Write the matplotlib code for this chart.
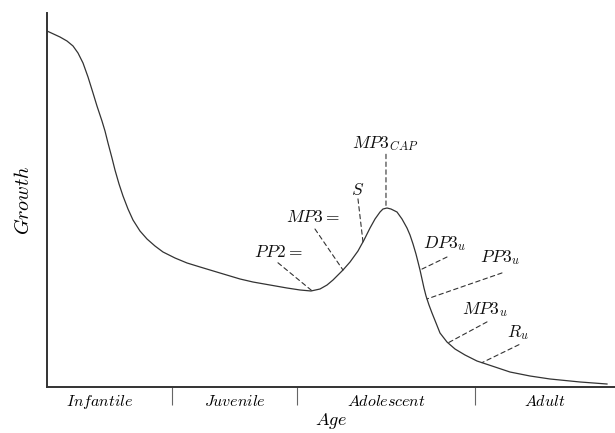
import numpy as np
import matplotlib
matplotlib.use("Agg")
import matplotlib.pyplot as plt

plt.rcParams['mathtext.fontset'] = 'cm'
plt.rcParams['font.family'] = ['DejaVu Serif']

# Growth curve (age 0-100, growth 0-100)
age = [0, 2.29, 3.52, 4.58, 5.46, 6.34, 7.22, 8.10, 8.80, 9.68,
       10.21, 10.74, 11.44, 11.97, 12.68, 13.38, 14.26, 15.14, 16.37, 17.61,
       19.01, 20.42, 22.54, 24.65, 26.94, 30.46, 33.98, 36.27, 39.26, 42.25,
       44.54, 46.48, 48.06, 49.30, 50.35, 52.11, 53.35, 54.75, 55.81, 56.87,
       57.75, 58.63, 59.15, 59.86, 60.56, 61.62, 62.50, 63.38, 63.91, 64.44,
       64.96, 65.32, 65.67, 66.02, 66.37, 66.73, 67.25, 67.78, 68.49, 69.19,
       70.42, 71.83, 73.59, 75.70, 78.87, 81.51, 85.04, 88.56, 93.84, 98.59]
growth = [95.19, 93.58, 92.51, 91.18, 89.30, 86.63, 82.89, 78.61, 75.13, 71.12,
          68.45, 65.24, 61.23, 58.02, 54.28, 51.07, 47.59, 44.65, 41.71, 39.57,
          37.70, 36.10, 34.49, 33.16, 32.09, 30.48, 28.88, 28.07, 27.27, 26.47,
          25.94, 25.67, 26.20, 27.27, 28.61, 31.28, 33.42, 36.36, 39.30, 42.51,
          44.92, 46.79, 47.59, 47.86, 47.59, 46.79, 44.92, 42.51, 40.64, 38.24,
          35.56, 33.42, 31.28, 28.88, 26.47, 24.33, 21.93, 19.79, 17.11, 14.44,
          12.03, 10.16, 8.56, 6.95, 5.35, 4.01, 2.94, 2.14, 1.34, 0.80]

# Age stages
stage_names = ['Infantile', 'Juvenile', 'Adolescent', 'Adult']
stage_bounds = [22.01, 44.01, 75.35]
stage_centers = [9.33, 33.1, 59.68, 87.68]

# Annotated events: label, age on the curve
event_labels = [r'$PP2 =$', r'$MP3 =$', r'$S$', r'$MP3_{CAP}$',
                r'$DP3_u$', r'$PP3_u$', r'$MP3_u$', r'$R_u$']
event_ages = [46.65, 52.11, 55.63, 59.68, 65.67, 66.90, 70.6, 76.58]

fig = plt.figure(figsize=(6.15, 4.33), dpi=100)
ax = fig.add_axes([47/615, 46/433, 1 - 47/615, (387-13)/433])

ax.plot(age, growth, color='#333333', lw=0.9, solid_joinstyle='round')
ax.set_xlim(0, 100)
ax.set_ylim(0, 100)

for s in ['top', 'right']:
    ax.spines[s].set_visible(False)
for s in ['left', 'bottom']:
    ax.spines[s].set_linewidth(1.4)
    ax.spines[s].set_color('#333333')

ax.set_yticks([])
ax.set_xticks(stage_bounds)
ax.set_xticklabels([])
ax.tick_params(axis='x', which='major', length=13, width=0.8, color='#666666', direction='out')
ax.set_xticks(stage_centers, minor=True)
ax.set_xticklabels([r'$' + n + '$' for n in stage_names], minor=True, fontsize=11.5)
ax.tick_params(axis='x', which='minor', length=0, pad=4)

ax.set_xlabel(r'$Age$', fontsize=13, labelpad=0)
ax.set_ylabel(r'$Growth$', fontsize=14.5, labelpad=10)

# offsets (pixels): dashed line end, label centre
line_off = [(-34, 28), (-28, 41), (-5, 43), (0, 54), (27, 13), (75, 26), (39, 21), (37, 18)]
text_off = [(-34, 38), (-30, 53), (-5, 51), (-1, 65), (25, 26), (73, 41), (37, 33), (36, 30)]

for lab, a, lo, to in zip(event_labels, event_ages, line_off, text_off):
    g = np.interp(a, age, growth)
    ax.annotate('', xy=(a, g), xytext=lo, textcoords='offset pixels',
                arrowprops=dict(arrowstyle='-', linestyle=(0, (4, 3)), lw=0.8,
                                color='#333333', shrinkA=0, shrinkB=0))
    ax.annotate(lab, xy=(a, g), xytext=to, textcoords='offset pixels',
                ha='center', va='center', fontsize=12.5, color='#111111')

fig.savefig('out.png', dpi=100)
